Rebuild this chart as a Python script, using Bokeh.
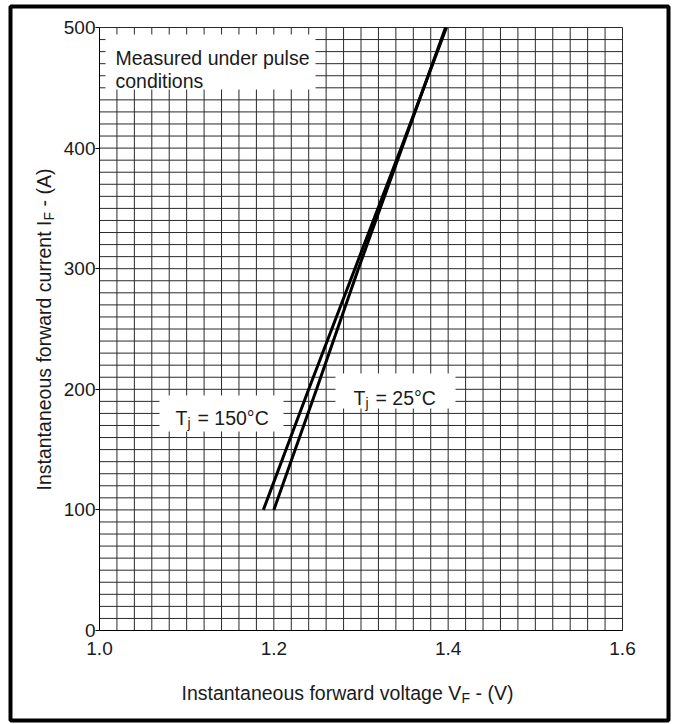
import math
from bokeh.plotting import figure
from bokeh.models import (Range1d, FixedTicker, PrintfTickFormatter, Label,
                          BoxAnnotation)
from bokeh.embed import file_html
from bokeh.resources import INLINE

# ---- data ----
current_a = [100, 200, 300, 400, 500]
vf_tj150 = [1.188, 1.240, 1.293, 1.346, 1.398]
vf_tj25 = [1.200, 1.249, 1.297, 1.347, 1.397]

x_ticks = [1.0, 1.2, 1.4, 1.6]
y_ticks = [0, 100, 200, 300, 400, 500]
grid_v = [round(1.0 + 0.02 * i, 2) for i in range(31)]   # 0.02 V spacing
grid_h = [10 * i for i in range(51)]                      # 10 A spacing

FONT = "Liberation Sans"
TXT = "#1a1a1a"

# where the value box (1.0..1.6 V, 0..500 A) sits on the 675x724 canvas
FL, FR, FT, FB = 99, 622, 27, 630
W, H = 675, 724


def dx(px):
    return 1.0 + (px - FL) / (FR - FL) * 0.6


def dy(py):
    return (FB - py) / (FB - FT) * 500.0


# the frame covers the whole canvas; axes are pinned at V=1.0 and I=0
p = figure(width=W, height=H, x_range=Range1d(dx(0), dx(W)), y_range=Range1d(dy(H), dy(0)),
           output_backend="svg", toolbar_location=None,
           min_border_left=0, min_border_right=0, min_border_top=0, min_border_bottom=0)
p.background_fill_color = "white"
p.border_fill_color = "white"
p.outline_line_color = None
p.xgrid.grid_line_color = None
p.ygrid.grid_line_color = None

# chart grid
GRID = "#2a2a2a"
p.segment(x0=grid_v, y0=[0] * len(grid_v), x1=grid_v, y1=[500] * len(grid_v),
          line_color=GRID, line_width=1)
p.segment(x0=[1.0] * len(grid_h), y0=grid_h, x1=[1.6] * len(grid_h), y1=grid_h,
          line_color=GRID, line_width=1)

# axes
p.xaxis.fixed_location = 0
p.yaxis.fixed_location = 1.0
p.xaxis.bounds = (1.0, 1.6)
p.yaxis.bounds = (0, 500)
p.xaxis.ticker = FixedTicker(ticks=x_ticks)
p.yaxis.ticker = FixedTicker(ticks=y_ticks)
p.xaxis.formatter = PrintfTickFormatter(format="%.1f")
p.yaxis.formatter = PrintfTickFormatter(format="%d")
for ax in (p.xaxis, p.yaxis):
    ax.axis_line_color = "black"
    ax.axis_line_width = 1
    ax.minor_tick_line_color = None
    ax.major_tick_in = 0
    ax.major_label_text_font = FONT
    ax.major_label_text_font_size = "19px"
    ax.major_label_text_color = TXT
    ax.major_tick_line_color = "black"
p.xaxis.major_tick_out = 0
p.xaxis.major_label_standoff = 11
p.yaxis.major_tick_out = 4
p.yaxis.major_label_standoff = 0

# white label boxes over the grid
box_kw = dict(fill_color="white", fill_alpha=1.0, line_color=None)
p.add_layout(BoxAnnotation(left=dx(105), right=dx(315), top=dy(34), bottom=dy(89), **box_kw))
p.add_layout(BoxAnnotation(left=dx(159), right=dx(283), top=dy(395), bottom=dy(431), **box_kw))
p.add_layout(BoxAnnotation(left=dx(335), right=dx(455), top=dy(373), bottom=dy(408), **box_kw))

# curves
p.line(vf_tj150, current_a, line_width=3, line_color="black", line_cap="butt")
p.line(vf_tj25, current_a, line_width=3, line_color="black", line_cap="butt")


def lab(text, px, py, size="19.5px", angle=0.0):
    p.add_layout(Label(x=dx(px), y=dy(py), text=text, text_font=FONT,
                       text_font_size=size, text_color=TXT, angle=angle,
                       text_align="left", text_baseline="alphabetic"))


# annotation text
lab("Measured under pulse", 115, 57)
lab("conditions", 115, 80)

lab("T", 175, 417)
lab("j", 187, 422, size="14px")
lab("= 150\u00b0C", 197, 417)

lab("T", 353, 397)
lab("j", 365, 402, size="14px")
lab("= 25\u00b0C", 375, 397)

# x axis title with subscript
lab("Instantaneous forward voltage V", 181, 692)
lab("F", 461, 697, size="14px")
lab("- (V)", 475, 692)

# y axis title (rotated) with subscript
R = math.pi / 2
lab("Instantaneous forward current I", 43, 490, angle=R)
lab("F", 48, 220, size="14px", angle=R)
lab("- (A)", 43, 206, angle=R)

# heavy outer frame of the figure
p.add_layout(BoxAnnotation(left=dx(10), right=dx(668), top=dy(6), bottom=dy(720),
                           fill_alpha=0.0, line_color="black", line_alpha=1.0,
                           line_width=4))

open("out.html", "w").write(file_html(p, INLINE))
